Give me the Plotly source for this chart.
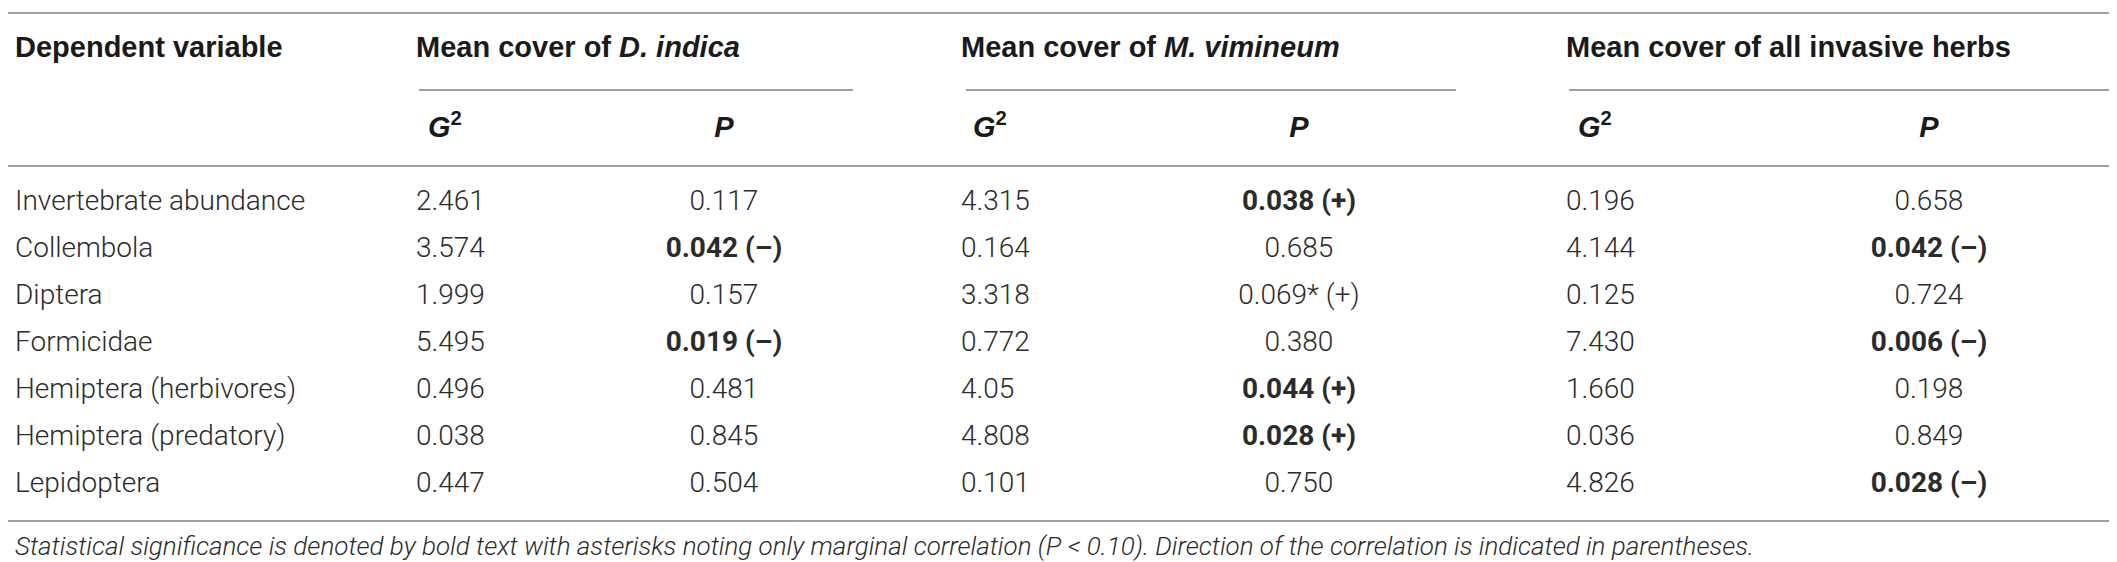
import plotly.graph_objects as go

# table values
variables = ["Invertebrate abundance", "Collembola", "Diptera", "Formicidae",
             "Hemiptera (herbivores)", "Hemiptera (predatory)", "Lepidoptera"]

dind_g2 = ["2.461", "3.574", "1.999", "5.495", "0.496", "0.038", "0.447"]
dind_p = ["0.117", "0.042 (–)", "0.157", "0.019 (–)", "0.481", "0.845", "0.504"]
dind_sig = [False, True, False, True, False, False, False]

mvim_g2 = ["4.315", "0.164", "3.318", "0.772", "4.05", "4.808", "0.101"]
mvim_p = ["0.038 (+)", "0.685", "0.069* (+)", "0.380", "0.044 (+)", "0.028 (+)", "0.750"]
mvim_sig = [True, False, False, False, True, True, False]

all_g2 = ["0.196", "4.144", "0.125", "7.430", "1.660", "0.036", "4.826"]
all_p = ["0.658", "0.042 (–)", "0.724", "0.006 (–)", "0.198", "0.849", "0.028 (–)"]
all_sig = [False, True, False, True, False, False, True]

group_titles = ["Mean cover of <i>D. indica</i>", "Mean cover of <i>M. vimineum</i>",
                "Mean cover of all invasive herbs"]
footnote = ("Statistical significance is denoted by bold text with asterisks noting only "
            "marginal correlation (P &lt; 0.10). Direction of the correlation is indicated in parentheses.")

W, H = 2117, 562
row_y = [195 + 47 * i for i in range(len(variables))]

body_font = dict(family="Roboto", size=28, color="#2b2b2b", weight=300)
head_font = dict(family="Liberation Sans", size=29, color="#1a1a1a")

# column layout: (left edge of G2 column, centre of P column, group line start/end)
groups = [
    (408, 716, 411, 845, dind_g2, dind_p, dind_sig),
    (953, 1291, 958, 1448, mvim_g2, mvim_p, mvim_sig),
    (1558, 1921, 1561, W, all_g2, all_p, all_sig),
]

fig = go.Figure()

def add_text(xs, ys, texts, font, pos):
    fig.add_trace(go.Scatter(x=xs, y=ys, text=texts, mode="text",
                             textposition=pos, textfont=font,
                             hoverinfo="skip", showlegend=False))

# first column
add_text([7] * len(variables), row_y, variables, body_font, "middle right")
add_text([7], [42], ["<b>Dependent variable</b>"], head_font, "middle right")

shapes = []
for i, (gx, px, lx0, lx1, g2, p, sig) in enumerate(groups):
    add_text([gx] * len(g2), row_y, g2, body_font, "middle right")
    ptxt = [f"<b>{v}</b>" if s else v for v, s in zip(p, sig)]
    add_text([px] * len(p), row_y, ptxt, body_font, "middle center")
    add_text([gx], [42], [f"<b>{group_titles[i]}</b>"], head_font, "middle right")
    add_text([gx + 12], [122], ["<b><i>G</i><sup>2</sup></b>"], head_font, "middle right")
    add_text([px], [122], ["<b><i>P</i></b>"], head_font, "middle center")
    shapes.append(dict(type="line", x0=lx0, x1=lx1, y0=82, y1=82, xref="x", yref="y",
                       line=dict(color="#808080", width=1.5)))

for yy in [5, 158, 513]:
    shapes.append(dict(type="line", x0=0, x1=W, y0=yy, y1=yy, xref="x", yref="y",
                       line=dict(color="#808080", width=1.5)))

add_text([7], [540], [f"<i>{footnote}</i>"],
         dict(family="Roboto", size=26, color="#2b2b2b", weight=300), "middle right")

fig.update_layout(
    width=W, height=H,
    margin=dict(l=0, r=0, t=0, b=0),
    paper_bgcolor="white", plot_bgcolor="white",
    xaxis=dict(range=[0, W], visible=False, fixedrange=True),
    yaxis=dict(range=[H, 0], visible=False, fixedrange=True),
    shapes=shapes,
)

fig.write_html("out.html")
